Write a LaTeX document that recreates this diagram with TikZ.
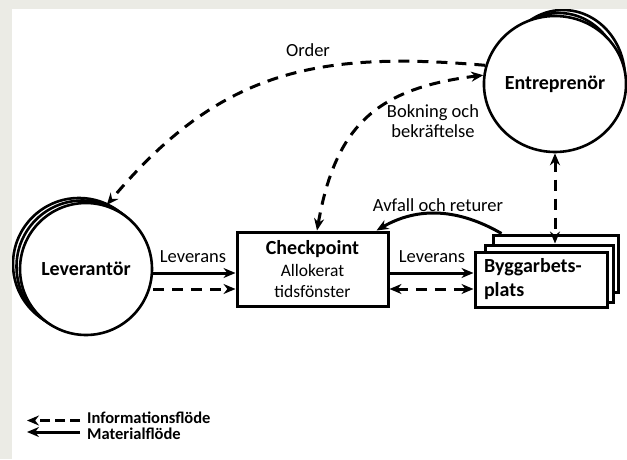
\documentclass[tikz,border=0pt]{standalone}
\usepackage{fontspec}
\setmainfont{Carlito}
\usepackage{tikz}
\usetikzlibrary{arrows.meta,shapes.geometric,calc}
\definecolor{band}{HTML}{EBEBE5}

\begin{document}
\begin{tikzpicture}[x=1pt,y=1pt,>={Stealth[length=12pt,width=10pt]},
  actor/.style={circle,draw,line width=2.6pt,fill=white,minimum size=132pt,inner sep=0pt,
    font=\fontsize{20}{24}\selectfont\bfseries},
  actorE/.style={ellipse,draw,line width=2.6pt,fill=white,minimum width=124pt,minimum height=136pt,
    inner sep=0pt,font=\fontsize{20}{24}\selectfont\bfseries},
  sitebox/.style={rectangle,draw,line width=3pt,fill=white,inner xsep=9pt,
    font=\fontsize{20}{24}\selectfont\bfseries},
  matflow/.style={draw,line width=3pt},
  infoflow/.style={draw,line width=3pt,dash pattern=on 11pt off 8pt},
  lbl/.style={inner sep=1pt,font=\fontsize{18.5}{20}\selectfont},
  legtxt/.style={inner sep=0pt,anchor=west,font=\fontsize{16.5}{18}\selectfont\bfseries}]
  \useasboundingbox (0,0) rectangle (627,459);
  \node[actor] (lev3) at (79,195) {};
  \node[actor] (lev2) at (82.5,192.5) {};
  \node[actor] (lev) at (86,190) {Leverantör};
  \node[actorE] (ent3) at (563,381) {};
  \node[actorE] (ent2) at (559,378) {};
  \node[actorE] (ent) at (555,375) {Entreprenör};
  \node[sitebox,minimum width=151pt,minimum height=74pt,align=center,
    font=\fontsize{17.5}{21}\selectfont] (check) at (312.5,190)
    {{\fontsize{20}{23}\selectfont\bfseries Checkpoint}\\[1pt] Allokerat\\ tidsfönster};
  \node[sitebox,minimum width=125pt,minimum height=57pt] (bygg3) at (555.5,195.5) {};
  \node[sitebox,minimum width=128pt,minimum height=57pt] (bygg2) at (549,185.5) {};
  \node[sitebox,minimum width=132pt,minimum height=55pt,text width=114pt,align=left]
    (bygg) at (541,179.5) {Byggarbets-\\plats};

  \draw[matflow,->] ([yshift=-4pt]lev.east) -- ([yshift=-4pt]check.west);
  \draw[infoflow,->] ([yshift=-20pt]lev.east) -- ([yshift=-20pt]check.west);
  \draw[matflow,->] ([yshift=-4pt]check.east) -- ([yshift=6.5pt]bygg.west);
  \draw[infoflow,<->] ([yshift=-20pt]check.east) -- ([yshift=-9.5pt]bygg.west);
  \draw[matflow,->] ([xshift=10pt]bygg3.north west) to[out=150,in=30] ([xshift=-13pt]check.north east);
  \draw[infoflow,<->] (ent.south) -- (ent.south |- bygg2.north);
  \draw[infoflow,->] (ent.165) to[out=175,in=50,looseness=1.1] (lev.72);
  \draw[infoflow,<->] ([xshift=4.5pt]check.north) to[out=80,in=187,looseness=1.2] (ent.173);

  \node[lbl] (lev-lbl) at (193,202) {Leverans};
  \node[lbl] (site-lbl) at (432,202) {Leverans};
  \node[lbl] (avfall-lbl) at (438,254) {Avfall och returer};
  \node[lbl] (order-lbl) at (308,409) {Order};
  \node[lbl,align=center] (bokning-lbl) at (433,338) {Bokning och\\bekräftelse};

  \coordinate (infoA) at (80,38.5);
  \coordinate (infoB) at (27,38.5);
  \coordinate (matA) at (80,27);
  \coordinate (matB) at (27,27);
  \draw[infoflow,dash pattern=on 10pt off 5pt,->] (infoA) -- (infoB);
  \draw[matflow,->] (matA) -- (matB);
  \node[legtxt] (info-txt) at (87,41) {Informationsflöde};
  \node[legtxt] (mat-txt) at (87,25) {Materialflöde};

  \fill[band] (0,0) rectangle (12,459);
  \fill[band] (0,450) rectangle (627,459);
\end{tikzpicture}
\end{document}
